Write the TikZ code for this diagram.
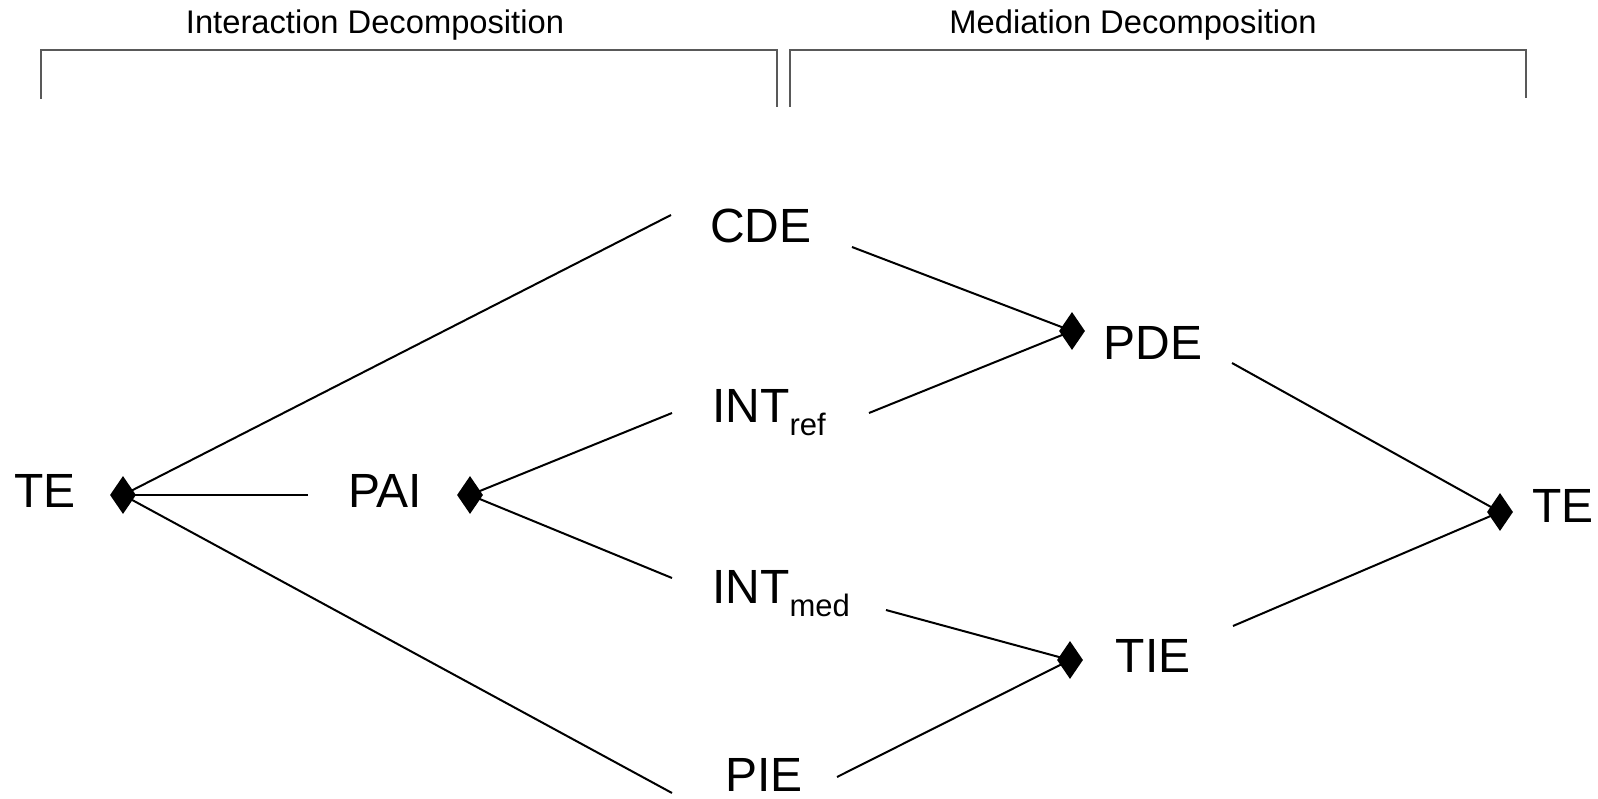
\documentclass[tikz,border=0pt]{standalone}
\usepackage{fontspec}
\setmainfont{Liberation Sans}
\usetikzlibrary{shapes.geometric}
\tikzset{
  lbl/.style={inner sep=0pt, anchor=base, font=\fontsize{48}{48}\selectfont},
  hdr/.style={inner sep=0pt, anchor=base, font=\fontsize{32.7}{33}\selectfont},
  tipd/.style={diamond, fill=black, draw=none, inner sep=0pt, minimum width=26pt, minimum height=38pt},
  conn/.style={draw=black, line width=2pt},
  brk/.style={draw=black!65, line width=2.2pt}
}
\newcommand{\subtxt}[1]{\raisebox{-13pt}{\fontsize{31}{31}\selectfont #1}}
\begin{document}
\begin{tikzpicture}[x=1pt,y=-1pt]
\useasboundingbox (0,0) rectangle (1598,799);
% headers
\node[hdr] (hint) at (375,34) {Interaction Decomposition};
\node[hdr] (hmed) at (1133,34) {Mediation Decomposition};
\draw[brk] (41,99) -- (41,50) -- (777,50) -- (777,107);
\draw[brk] (790,107) -- (790,50) -- (1526,50) -- (1526,98);
% text nodes
\node[lbl] (te1) at (45,507) {TE};
\node[lbl] (pai) at (385,507) {PAI};
\node[lbl] (cde) at (761,243) {CDE};
\node[lbl, anchor=base west] (intref) at (712,422) {INT\subtxt{ref}};
\node[lbl, anchor=base west] (intmed) at (712,603) {INT\subtxt{med}};
\node[lbl] (pie) at (764,791) {PIE};
\node[lbl] (pde) at (1153,360) {PDE};
\node[lbl] (tie) at (1153,672) {TIE};
\node[lbl] (te2) at (1563,522) {TE};
% diamond tips
\node[tipd] (te1d) at (123,495) {};
\node[tipd] (paid) at (470,495) {};
\node[tipd] (pded) at (1072,331) {};
\node[tipd] (tied) at (1070,660) {};
\node[tipd] (te2d) at (1500,512) {};
% connector ends near labels
\coordinate (cdeL) at (671,215);
\coordinate (cdeR) at (852,247);
\coordinate (paiL) at (308,495);
\coordinate (pieL) at (672,793);
\coordinate (pieR) at (837,777);
\coordinate (intrefL) at (672,413);
\coordinate (intrefR) at (869,413);
\coordinate (intmedL) at (672,578);
\coordinate (intmedR) at (886,610);
\coordinate (pdeR) at (1232,363);
\coordinate (tieR) at (1233,626);
% connectors
\draw[conn] (cdeL) -- (te1d.center);
\draw[conn] (paiL) -- (te1d.center);
\draw[conn] (pieL) -- (te1d.center);
\draw[conn] (intrefL) -- (paid.center);
\draw[conn] (intmedL) -- (paid.center);
\draw[conn] (cdeR) -- (pded.center);
\draw[conn] (intrefR) -- (pded.center);
\draw[conn] (intmedR) -- (tied.center);
\draw[conn] (pieR) -- (tied.center);
\draw[conn] (pdeR) -- (te2d.center);
\draw[conn] (tieR) -- (te2d.center);
\end{tikzpicture}
\end{document}
